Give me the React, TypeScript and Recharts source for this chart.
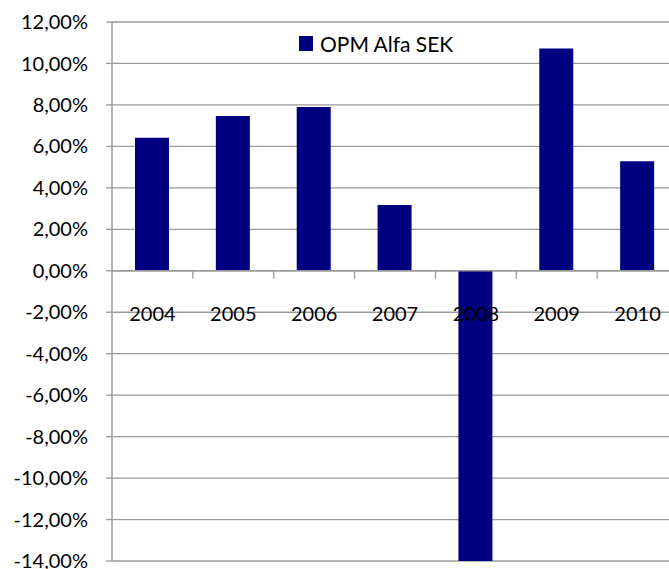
import { BarChart, Bar, XAxis, YAxis, CartesianGrid, ReferenceLine, Legend } from 'recharts';

const years = ['2004', '2005', '2006', '2007', '2008', '2009', '2010'];
const alfaSek = [6.42, 7.47, 7.9, 3.17, -14.0, 10.72, 5.28];
const yTicks = [-14, -12, -10, -8, -6, -4, -2, 0, 2, 4, 6, 8, 10, 12];

const data = years.map((year, i) => ({ year, value: alfaSek[i] }));

const CHART_W = 680;
const CHART_H = 569;
const M = { top: 22, right: 2, left: 0, bottom: 7 };
const Y_AXIS_W = 112;
const X_AXIS_H = 1;
const Y_MIN = yTicks[0];
const Y_MAX = yTicks[yTicks.length - 1];
const PLOT_H = CHART_H - M.top - M.bottom - X_AXIS_H;
const PLOT_W = CHART_W - M.left - M.right - Y_AXIS_W;
const BAND = PLOT_W / years.length;
const ZERO_Y = M.top + PLOT_H * (Y_MAX / (Y_MAX - Y_MIN));

const font = 'Lato, "Noto Sans", sans-serif';
const grid = '#9a9a9a';

const fmt = (v: number) => `${v.toFixed(2).replace('.', ',')}%`;

// category labels sit under the zero line, not at the bottom of the plot
const YearTick = (props: any) => {
  const { x, payload } = props;
  return (
    <g>
      <line x1={x + BAND / 2} x2={x + BAND / 2} y1={ZERO_Y} y2={ZERO_Y + 8} stroke={grid} strokeWidth={1.3} />
      <text x={x} y={ZERO_Y + 42} textAnchor="middle" dominantBaseline="central" fontSize={20} fontFamily={font} fill="#000">
        {payload.value}
      </text>
    </g>
  );
};

const LegendBox = () => (
  <div style={{ display: 'flex', alignItems: 'center', fontFamily: font, fontSize: 21, color: '#000' }}>
    <span style={{ width: 14, height: 15, background: '#000080', display: 'inline-block', marginRight: 7 }} />
    <span>OPM Alfa SEK</span>
  </div>
);

export default function App() {
  return (
    <div style={{ position: 'fixed', left: 0, top: 0, width: 669, height: 569, overflow: 'hidden', background: '#fff' }}>
      <BarChart width={CHART_W} height={CHART_H} data={data} margin={M}>
        <CartesianGrid vertical={false} stroke={grid} strokeWidth={1.3} />
        <XAxis
          dataKey="year"
          height={X_AXIS_H}
          axisLine={false}
          tickLine={false}
          tick={<YearTick />}
          interval={0}
        />
        <YAxis
          domain={[Y_MIN, Y_MAX]}
          ticks={yTicks}
          interval={0}
          width={Y_AXIS_W}
          tickFormatter={fmt}
          axisLine={{ stroke: grid, strokeWidth: 1.5 }}
          tickLine={{ stroke: grid, strokeWidth: 1.3 }}
          tickSize={6}
          tickMargin={18}
          tick={{ fontSize: 20, fontFamily: font, fill: '#000' }}
        />
        <Legend
          layout="horizontal"
          verticalAlign="middle"
          align="center"
          content={<LegendBox />}
          wrapperStyle={{ top: 31, left: 299, width: 'auto', height: 'auto' }}
        />
        <ReferenceLine y={0} stroke={grid} strokeWidth={1.5} />
        <Bar dataKey="value" fill="#000080" barSize={34} isAnimationActive={false} />
      </BarChart>
    </div>
  );
}
